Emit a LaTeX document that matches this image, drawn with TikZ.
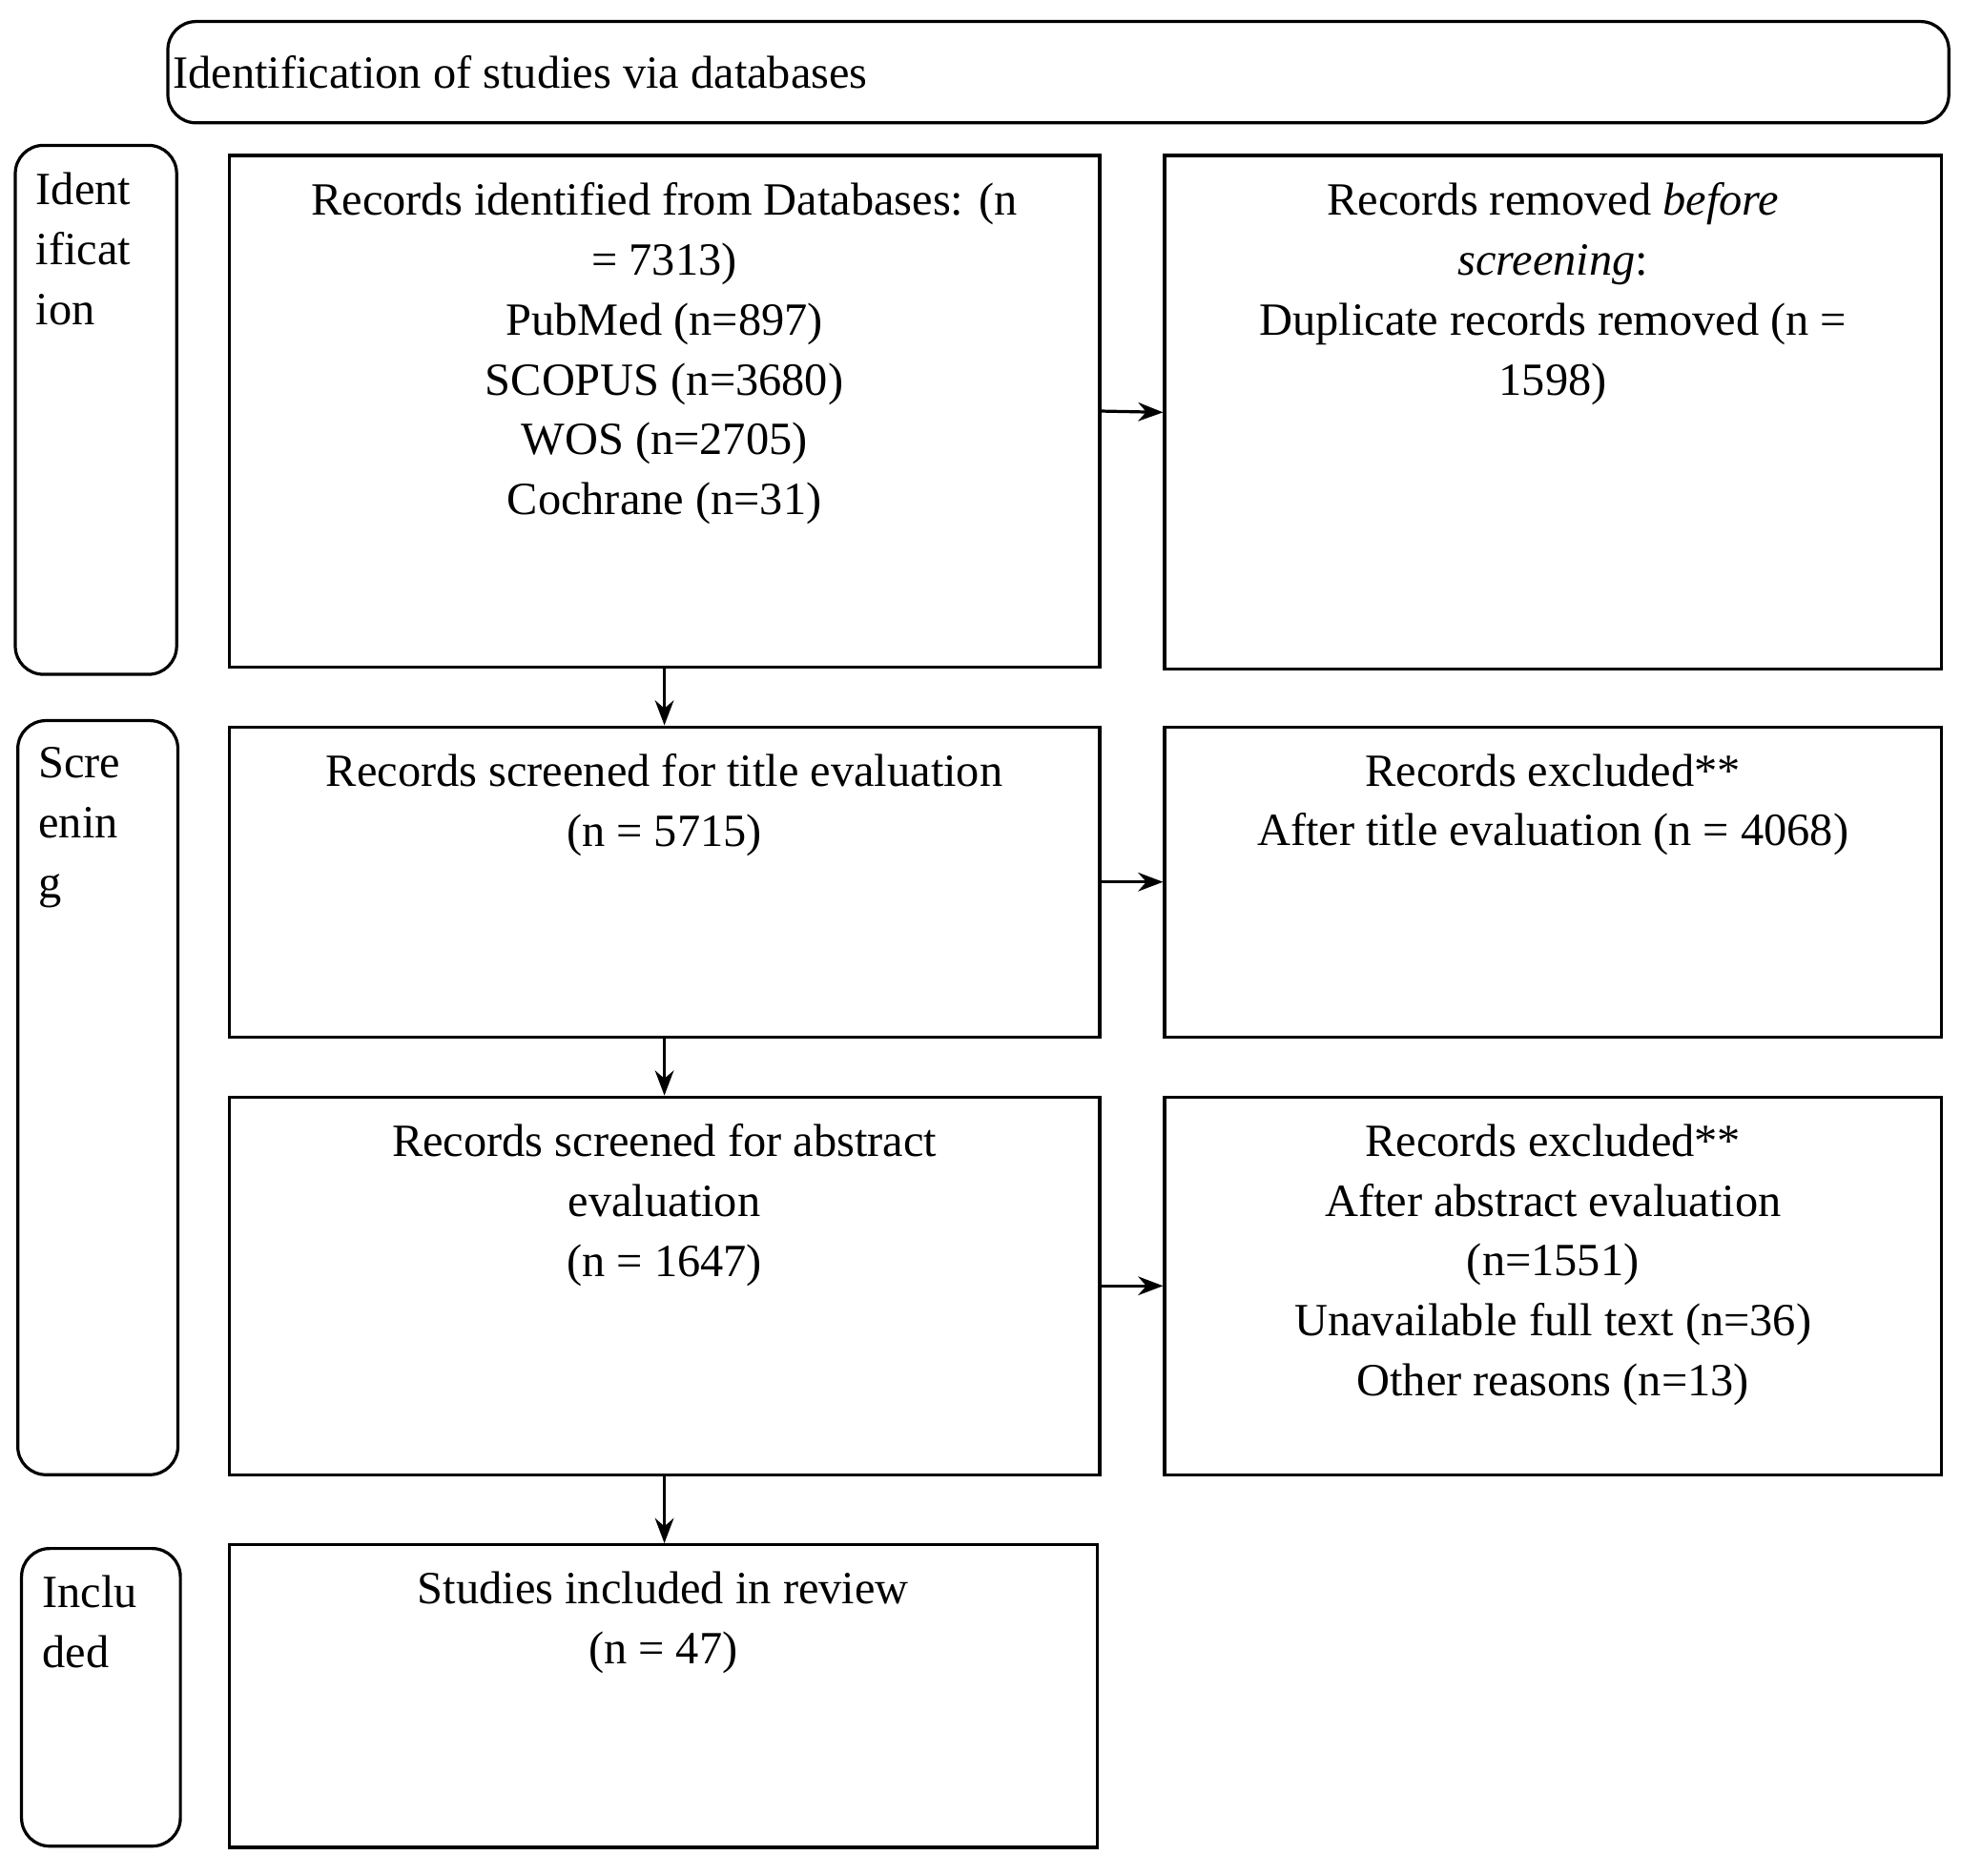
\documentclass[tikz,border=0pt]{standalone}
\usepackage{fontspec}
\setmainfont{Liberation Serif}
\usetikzlibrary{arrows.meta}
\begin{document}
\begin{tikzpicture}[
  font=\fontsize{21}{27.3}\selectfont,
  box/.style={draw, line width=1.4pt, anchor=north west, inner sep=0pt},
  side/.style={draw, line width=1.4pt, anchor=north west, inner sep=0pt, rounded corners=0.45cm},
  txt/.style={anchor=north, align=center, inner sep=0pt, yshift=-0.45cm},
  stxt/.style={anchor=north west, align=left, inner sep=0pt, xshift=0.35cm, yshift=-0.45cm},
  arr/.style={-{Stealth[length=0.4cm,width=0.3cm]}, line width=1.4pt}
]
\useasboundingbox (0,0) rectangle (31.36,-30);
\node[side, minimum width=28.48cm, minimum height=1.62cm] (hd) at (2.66,-0.32) {};
\node[anchor=west, inner sep=0pt] (hdt) at ([xshift=0.1cm]hd.west) {Identification of studies via databases};

\node[side, minimum width=2.58cm, minimum height=8.46cm] (s1) at (0.22,-2.3) {};
\node[stxt] (s1t) at (s1.north west) {Ident\\ificat\\ion};
\node[side, minimum width=2.56cm, minimum height=12.06cm] (s2) at (0.26,-11.5) {};
\node[stxt] (s2t) at (s2.north west) {Scre\\enin\\g};
\node[side, minimum width=2.54cm, minimum height=4.76cm] (s3) at (0.32,-24.74) {};
\node[stxt] (s3t) at (s3.north west) {Inclu\\ded};

\node[box, minimum width=13.92cm, minimum height=8.18cm] (b1) at (3.64,-2.46) {};
\node[txt] (b1t) at (b1.north) {Records identified from Databases: (n\\= 7313)\\PubMed (n=897)\\SCOPUS (n=3680)\\WOS (n=2705)\\Cochrane (n=31)};
\node[box, minimum width=12.42cm, minimum height=8.22cm] (b2) at (18.6,-2.46) {};
\node[txt] (b2t) at (b2.north) {Records removed \textit{before}\\\textit{screening}:\\Duplicate records removed (n =\\1598)};

\node[box, minimum width=13.92cm, minimum height=4.96cm] (b3) at (3.64,-11.6) {};
\node[txt] (b3t) at (b3.north) {Records screened for title evaluation\\(n = 5715)};
\node[box, minimum width=12.42cm, minimum height=4.96cm] (b4) at (18.6,-11.6) {};
\node[txt] (b4t) at (b4.north) {Records excluded**\\After title evaluation (n = 4068)};

\node[box, minimum width=13.92cm, minimum height=6.04cm] (b5) at (3.64,-17.52) {};
\node[txt] (b5t) at (b5.north) {Records screened for abstract\\evaluation\\(n = 1647)};
\node[box, minimum width=12.42cm, minimum height=6.04cm] (b6) at (18.6,-17.52) {};
\node[txt] (b6t) at (b6.north) {Records excluded**\\After abstract evaluation\\(n=1551)\\Unavailable full text (n=36)\\Other reasons (n=13)};

\node[box, minimum width=13.88cm, minimum height=4.84cm] (b7) at (3.64,-24.68) {};
\node[txt] (b7t) at (b7.north) {Studies included in review\\(n = 47)};

\draw[arr] (b1.east) -- (b2.west);
\draw[arr] (b3.east) -- (b4.west);
\draw[arr] (b5.east) -- (b6.west);
\draw[arr] (b1.south) -- (b3.north);
\draw[arr] (b3.south) -- (b5.north);
\draw[arr] (b5.south) -- (b7.north -| b5.south);
\end{tikzpicture}
\end{document}
